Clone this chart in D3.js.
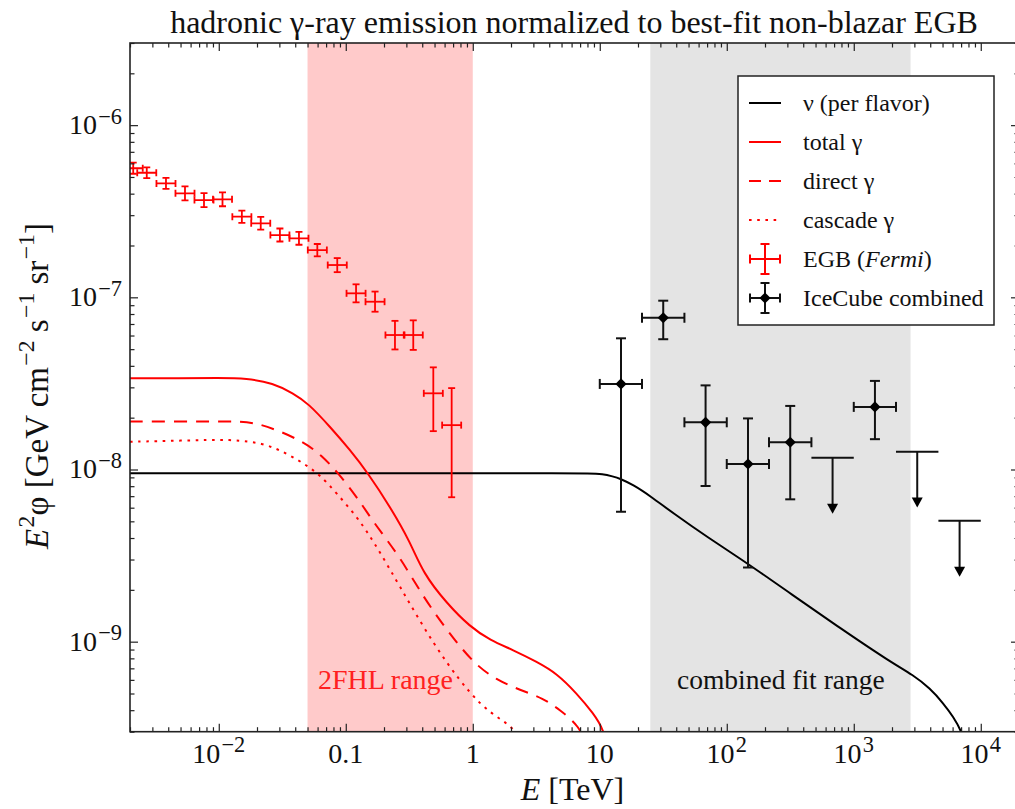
<!DOCTYPE html>
<html>
<head>
<meta charset="utf-8">
<script src="https://cdn.jsdelivr.net/npm/d3@7"></script>
<style>
  body { margin: 0; background: #fff; }
  svg { display: block; }
  text { font-family: "Liberation Serif", "Times New Roman", serif; }
</style>
</head>
<body>
<svg id="chart" width="1015" height="809"></svg>
<script>
// Energies in TeV, fluxes E^2 phi in GeV cm^-2 s^-1 sr^-1

// neutrino flux per flavour
const nuE = [0.002, 0.05, 1, 5, 8.4, 10.5, 12.7, 14.4, 18.4, 24.9, 37.9, 69.5, 152, 315, 780, 1930, 2940, 3980, 5070, 6080, 7080, 7600];
const nuF = [9.5e-9, 9.5e-9, 9.5e-9, 9.5e-9, 9.5e-9, 9.42e-9, 9.11e-9, 8.86e-9, 8.13e-9, 7.02e-9, 5.57e-9, 4.07e-9, 2.79e-9, 1.91e-9, 1.20e-9, 7.65e-10, 6.40e-10, 5.36e-10, 4.39e-10, 3.66e-10, 3.0e-10, 2.5e-10];

// total gamma-ray flux
const totE = [0.002, 0.005, 0.01, 0.0166, 0.0268, 0.0386, 0.0507, 0.0752, 0.108, 0.150, 0.223, 0.321, 0.407, 0.624, 0.951, 1.37, 2.08, 3.18, 4.58, 6.58, 8.89, 10.8, 11.8];
const totF = [3.39e-8, 3.39e-8, 3.40e-8, 3.39e-8, 3.17e-8, 2.77e-8, 2.42e-8, 1.77e-8, 1.30e-8, 9.5e-9, 6.08e-9, 3.81e-9, 2.49e-9, 1.67e-9, 1.22e-9, 1.02e-9, 8.95e-10, 7.65e-10, 6.55e-10, 5.01e-10, 3.84e-10, 3.07e-10, 2.2e-10];

// direct gamma-ray flux
const dirE = [0.002, 0.005, 0.01, 0.0147, 0.0199, 0.0286, 0.0463, 0.0646, 0.0873, 0.122, 0.175, 0.267, 0.407, 0.624, 1.01, 1.54, 2.36, 3.59, 4.86, 6.98, 7.8];
const dirF = [1.90e-8, 1.90e-8, 1.90e-8, 1.90e-8, 1.855e-8, 1.70e-8, 1.45e-8, 1.21e-8, 9.5e-9, 6.95e-9, 4.65e-9, 3.11e-9, 1.82e-9, 1.17e-9, 7.49e-10, 5.99e-10, 5.24e-10, 4.69e-10, 4.01e-10, 3.21e-10, 2.5e-10];

// cascade gamma-ray flux
const casE = [0.002, 0.005, 0.0129, 0.0224, 0.0322, 0.0463, 0.0627, 0.0849, 0.122, 0.155, 0.186, 0.267, 0.407, 0.624, 0.951, 1.37, 2.08, 2.4];
const casF = [1.45e-8, 1.47e-8, 1.50e-8, 1.42e-8, 1.27e-8, 1.09e-8, 9.29e-9, 7.27e-9, 5.32e-9, 4.1e-9, 3.3e-9, 2.09e-9, 1.22e-9, 7.49e-10, 5.01e-10, 3.84e-10, 3.21e-10, 2.6e-10];

// Fermi extragalactic gamma-ray background
const egbE  = [2.12e-3, 2.71e-3, 3.84e-3, 5.42e-3, 7.65e-3, 1.07e-2, 1.52e-2, 2.14e-2, 3.03e-2, 4.28e-2, 5.97e-2, 8.57e-2, 0.1205, 0.170, 0.244, 0.340, 0.489, 0.682];
const egbF  = [5.62e-7, 5.29e-7, 4.59e-7, 4.02e-7, 3.67e-7, 3.71e-7, 2.94e-7, 2.69e-7, 2.30e-7, 2.20e-7, 1.88e-7, 1.54e-7, 1.055e-7, 9.43e-8, 6.04e-8, 6.04e-8, 2.77e-8, 1.81e-8];
const egbHi = [6.05e-7, 5.69e-7, 4.94e-7, 4.41e-7, 4.03e-7, 4.07e-7, 3.19e-7, 2.93e-7, 2.51e-7, 2.40e-7, 2.04e-7, 1.69e-7, 1.19e-7, 1.08e-7, 7.3e-8, 7.35e-8, 3.92e-8, 2.97e-8];
const egbLo = [5.22e-7, 4.92e-7, 4.27e-7, 3.66e-7, 3.34e-7, 3.38e-7, 2.71e-7, 2.47e-7, 2.11e-7, 2.02e-7, 1.73e-7, 1.40e-7, 9.35e-8, 8.25e-8, 4.98e-8, 4.95e-8, 1.67e-8, 6.9e-9];
const egbHalfBin = 0.075; // half bin width in decades

// IceCube combined analysis: measured bins
const icE    = [14.7, 31.6, 68.1, 147, 316, 1468];
const icEmin = [10, 21.5, 46.4, 100, 215, 1000];
const icEmax = [21.5, 46.4, 100, 215, 464, 2150];
const icF    = [3.14e-8, 7.61e-8, 1.88e-8, 1.076e-8, 1.44e-8, 2.31e-8];
const icHi   = [5.78e-8, 9.56e-8, 3.08e-8, 1.98e-8, 2.34e-8, 3.27e-8];
const icLo   = [5.69e-9, 5.71e-8, 8.02e-9, 2.70e-9, 6.71e-9, 1.50e-8];

// IceCube combined analysis: upper limits
const ulE    = [681, 3160, 6813];
const ulEmin = [464, 2150, 4640];
const ulEmax = [1000, 4640, 10000];
const ulF    = [1.17e-8, 1.27e-8, 5.04e-9];

// shaded energy ranges
const bandFHL = [0.05, 1];
const bandFit = [25, 2800];

// axis ticks
const xMajor = [1e-2, 1e-1, 1, 10, 1e2, 1e3, 1e4];
const xMajorLabels = [["10", "−2"], ["0.1"], ["1"], ["10"], ["10", "2"], ["10", "3"], ["10", "4"]];
const yMajor = [1e-9, 1e-8, 1e-7, 1e-6];
const yMajorLabels = [["10", "−9"], ["10", "−8"], ["10", "−7"], ["10", "−6"]];

const m = { left: 130, right: 1019, top: 43, bottom: 731.7 };

const svg = d3.select("#chart");
const x = d3.scaleLog().domain([2e-3, 2e4]).range([m.left, m.right]);
const y = d3.scaleLog().domain([3e-10, 3e-6]).range([m.bottom, m.top]);

svg.append("defs").append("clipPath").attr("id", "plot-clip")
  .append("rect").attr("x", m.left).attr("y", m.top)
  .attr("width", m.right - m.left).attr("height", m.bottom - m.top);

const plot = svg.append("g").attr("clip-path", "url(#plot-clip)");

// shaded ranges
plot.append("rect").attr("x", x(bandFHL[0])).attr("y", m.top)
  .attr("width", x(bandFHL[1]) - x(bandFHL[0])).attr("height", m.bottom - m.top)
  .attr("fill", "#ffcaca");
plot.append("rect").attr("x", x(bandFit[0])).attr("y", m.top)
  .attr("width", x(bandFit[1]) - x(bandFit[0])).attr("height", m.bottom - m.top)
  .attr("fill", "#e4e4e4");

// range annotations
plot.append("text").attr("x", 318).attr("y", 689).attr("font-size", 28)
  .attr("fill", "#ff2020").text("2FHL range");
plot.append("text").attr("x", 677).attr("y", 689).attr("font-size", 27.5)
  .attr("fill", "#111").text("combined fit range");

// model curves
const line = d3.line().x(d => x(d[0])).y(d => y(d[1])).curve(d3.curveBasis);
const curves = [
  { E: nuE, F: nuF, color: "#000", dash: null },
  { E: totE, F: totF, color: "#ff0000", dash: null },
  { E: dirE, F: dirF, color: "#ff0000", dash: "13,9" },
  { E: casE, F: casF, color: "#ff0000", dash: "2.6,5.6" }
];
curves.forEach(c => {
  plot.append("path").datum(d3.zip(c.E, c.F)).attr("d", line)
    .attr("fill", "none").attr("stroke", c.color).attr("stroke-width", 2)
    .attr("stroke-dasharray", c.dash);
});

// Fermi EGB error bars
const egb = plot.append("g").attr("stroke", "#ff0000").attr("stroke-width", 1.8).attr("fill", "none");
const hb = Math.pow(10, egbHalfBin);
egbE.forEach((e, i) => {
  const cx = x(e), cy = y(egbF[i]);
  const yt = y(egbHi[i]), yb = y(egbLo[i]);
  const xl = x(e / hb), xr = x(e * hb);
  const cap = 3.5;
  egb.append("line").attr("x1", cx).attr("x2", cx).attr("y1", yt).attr("y2", yb);
  egb.append("line").attr("x1", cx - cap).attr("x2", cx + cap).attr("y1", yt).attr("y2", yt);
  egb.append("line").attr("x1", cx - cap).attr("x2", cx + cap).attr("y1", yb).attr("y2", yb);
  egb.append("line").attr("x1", xl).attr("x2", xr).attr("y1", cy).attr("y2", cy);
  egb.append("line").attr("x1", xl).attr("x2", xl).attr("y1", cy - cap).attr("y2", cy + cap);
  egb.append("line").attr("x1", xr).attr("x2", xr).attr("y1", cy - cap).attr("y2", cy + cap);
});

// IceCube points
const ic = plot.append("g").attr("stroke", "#111").attr("stroke-width", 2).attr("fill", "none");
const diamond = d3.symbol().type(d3.symbolDiamond2).size(80);
icE.forEach((e, i) => {
  const cx = x(e), cy = y(icF[i]);
  const yt = y(icHi[i]), yb = y(icLo[i]);
  const xl = x(icEmin[i]), xr = x(icEmax[i]);
  const cap = 5;
  ic.append("line").attr("x1", cx).attr("x2", cx).attr("y1", yt).attr("y2", yb);
  ic.append("line").attr("x1", cx - cap).attr("x2", cx + cap).attr("y1", yt).attr("y2", yt);
  ic.append("line").attr("x1", cx - cap).attr("x2", cx + cap).attr("y1", yb).attr("y2", yb);
  ic.append("line").attr("x1", xl).attr("x2", xr).attr("y1", cy).attr("y2", cy);
  ic.append("line").attr("x1", xl).attr("x2", xl).attr("y1", cy - cap).attr("y2", cy + cap);
  ic.append("line").attr("x1", xr).attr("x2", xr).attr("y1", cy - cap).attr("y2", cy + cap);
  ic.append("path").attr("d", diamond).attr("transform", `translate(${cx},${cy})`)
    .attr("fill", "#000").attr("stroke", "none");
});

// upper limits: bar with a downward arrow
const arrowFactor = 0.473;
ulE.forEach((e, i) => {
  const cx = x(e), cy = y(ulF[i]);
  const tip = y(ulF[i] * arrowFactor);
  ic.append("line").attr("x1", x(ulEmin[i])).attr("x2", x(ulEmax[i])).attr("y1", cy).attr("y2", cy);
  ic.append("line").attr("x1", cx).attr("x2", cx).attr("y1", cy).attr("y2", tip - 8);
  ic.append("path").attr("d", `M${cx - 5.5},${tip - 10}L${cx + 5.5},${tip - 10}L${cx},${tip}Z`)
    .attr("fill", "#000").attr("stroke", "none");
});

// axes: ticks on all four sides, pointing inwards
const frame = svg.append("g");
function minorTicks(domain) {
  const out = [];
  const lo = Math.floor(Math.log10(domain[0])), hi = Math.ceil(Math.log10(domain[1]));
  for (let p = lo; p <= hi; p++) {
    for (let k = 2; k <= 9; k++) {
      const v = k * Math.pow(10, p);
      if (v >= domain[0] && v <= domain[1]) out.push(v);
    }
  }
  return out;
}
const xMinor = minorTicks(x.domain());
const yMinor = minorTicks(y.domain());

function addAxis(axisFn, scale, values, size, transform) {
  const g = frame.append("g").attr("transform", transform)
    .call(axisFn(scale).tickValues(values).tickSizeInner(-size).tickSizeOuter(0).tickFormat(""));
  g.select(".domain").remove();
  g.selectAll(".tick line").attr("stroke", "#222").attr("stroke-width", 1.2);
}
addAxis(d3.axisBottom, x, xMajor, 8, `translate(0,${m.bottom})`);
addAxis(d3.axisBottom, x, xMinor, 4.5, `translate(0,${m.bottom})`);
addAxis(d3.axisTop, x, xMajor, 8, `translate(0,${m.top})`);
addAxis(d3.axisTop, x, xMinor, 4.5, `translate(0,${m.top})`);
addAxis(d3.axisLeft, y, yMajor, 8, `translate(${m.left},0)`);
addAxis(d3.axisLeft, y, yMinor, 4.5, `translate(${m.left},0)`);
addAxis(d3.axisRight, y, yMajor, 8, `translate(${m.right},0)`);
addAxis(d3.axisRight, y, yMinor, 4.5, `translate(${m.right},0)`);

frame.append("rect").attr("x", m.left).attr("y", m.top)
  .attr("width", m.right - m.left).attr("height", m.bottom - m.top)
  .attr("fill", "none").attr("stroke", "#222").attr("stroke-width", 1.6);

// rich text with superscripts
function rich(sel, runs, size, supRatio = 0.72, rise = 0.42) {
  let up = false;
  runs.forEach(r => {
    const ts = sel.append("tspan").text(r.t);
    if (r.it) ts.attr("font-style", "italic");
    if (r.sup) {
      ts.attr("font-size", size * supRatio);
      if (!up) { ts.attr("dy", -size * rise).attr("dx", size * 0.04); up = true; }
    } else if (up) {
      ts.attr("dy", size * rise); up = false;
    }
  });
}

// tick labels
const tickSize = 28;
xMajor.forEach((v, i) => {
  const lab = xMajorLabels[i];
  const t = svg.append("text").attr("x", x(v)).attr("y", 763).attr("font-size", tickSize)
    .attr("text-anchor", "middle").attr("fill", "#111");
  rich(t, lab.length > 1 ? [{ t: lab[0] }, { t: lab[1], sup: true }] : [{ t: lab[0] }], tickSize, 0.8, 0.38);
});
yMajor.forEach((v, i) => {
  const lab = yMajorLabels[i];
  const t = svg.append("text").attr("x", 122).attr("y", y(v) + 9).attr("font-size", tickSize)
    .attr("text-anchor", "end").attr("fill", "#111");
  rich(t, [{ t: lab[0] }, { t: lab[1], sup: true }], tickSize, 0.8, 0.38);
});

// axis titles
const xt = svg.append("text").attr("x", (m.left + m.right) / 2 - 2).attr("y", 800)
  .attr("font-size", 32).attr("text-anchor", "middle").attr("fill", "#111");
rich(xt, [{ t: "E", it: true }, { t: " [TeV]" }], 32);

const yt = svg.append("text").attr("transform", "translate(48,386) rotate(-90)")
  .attr("font-size", 33).attr("text-anchor", "middle").attr("fill", "#111");
rich(yt, [{ t: "E", it: true }, { t: "2", sup: true }, { t: "φ [GeV cm" }, { t: "−2", sup: true },
  { t: " s" }, { t: "−1", sup: true }, { t: " sr" }, { t: "−1", sup: true }, { t: "]" }], 33);

svg.append("text").attr("x", (m.left + m.right) / 2 - 0.5).attr("y", 33)
  .attr("font-size", 32).attr("text-anchor", "middle").attr("fill", "#111")
  .text("hadronic γ-ray emission normalized to best-fit non-blazar EGB");

// legend
const lg = svg.append("g");
lg.append("rect").attr("x", 738).attr("y", 76).attr("width", 256).attr("height", 249)
  .attr("fill", "#fff").attr("stroke", "#222").attr("stroke-width", 1.5);
const rows = [103, 142, 181, 220, 259, 298];
const lx0 = 749, lx1 = 781, lxc = 765, tx = 803;
const legSize = 24;
const lineEntries = [
  { color: "#000", dash: null, label: [{ t: "ν (per flavor)" }] },
  { color: "#ff0000", dash: null, label: [{ t: "total γ" }] },
  { color: "#ff0000", dash: "12,8", label: [{ t: "direct γ" }] },
  { color: "#ff0000", dash: "2.6,5.6", label: [{ t: "cascade γ" }] }
];
lineEntries.forEach((e, i) => {
  lg.append("line").attr("x1", lx0).attr("x2", lx1).attr("y1", rows[i]).attr("y2", rows[i])
    .attr("stroke", e.color).attr("stroke-width", 2).attr("stroke-dasharray", e.dash);
  const t = lg.append("text").attr("x", tx).attr("y", rows[i] + 8).attr("font-size", legSize).attr("fill", "#111");
  rich(t, e.label, legSize);
});
function legendCross(cy, color, withDiamond) {
  const g = lg.append("g").attr("stroke", color).attr("stroke-width", 2);
  g.append("line").attr("x1", lxc).attr("x2", lxc).attr("y1", cy - 15).attr("y2", cy + 15);
  g.append("line").attr("x1", lxc - 4.5).attr("x2", lxc + 4.5).attr("y1", cy - 15).attr("y2", cy - 15);
  g.append("line").attr("x1", lxc - 4.5).attr("x2", lxc + 4.5).attr("y1", cy + 15).attr("y2", cy + 15);
  g.append("line").attr("x1", lx0 + 1).attr("x2", lx1 - 1).attr("y1", cy).attr("y2", cy);
  g.append("line").attr("x1", lx0 + 1).attr("x2", lx0 + 1).attr("y1", cy - 4.5).attr("y2", cy + 4.5);
  g.append("line").attr("x1", lx1 - 1).attr("x2", lx1 - 1).attr("y1", cy - 4.5).attr("y2", cy + 4.5);
  if (withDiamond) {
    g.append("path").attr("d", diamond).attr("transform", `translate(${lxc},${cy})`)
      .attr("fill", "#000").attr("stroke", "none");
  }
}
legendCross(rows[4], "#ff0000", false);
legendCross(rows[5], "#111", true);
const t5 = lg.append("text").attr("x", tx).attr("y", rows[4] + 8).attr("font-size", legSize).attr("fill", "#111");
rich(t5, [{ t: "EGB (" }, { t: "Fermi", it: true }, { t: ")" }], legSize);
const t6 = lg.append("text").attr("x", tx).attr("y", rows[5] + 8).attr("font-size", legSize).attr("fill", "#111");
rich(t6, [{ t: "IceCube combined" }], legSize);
</script>
</body>
</html>
